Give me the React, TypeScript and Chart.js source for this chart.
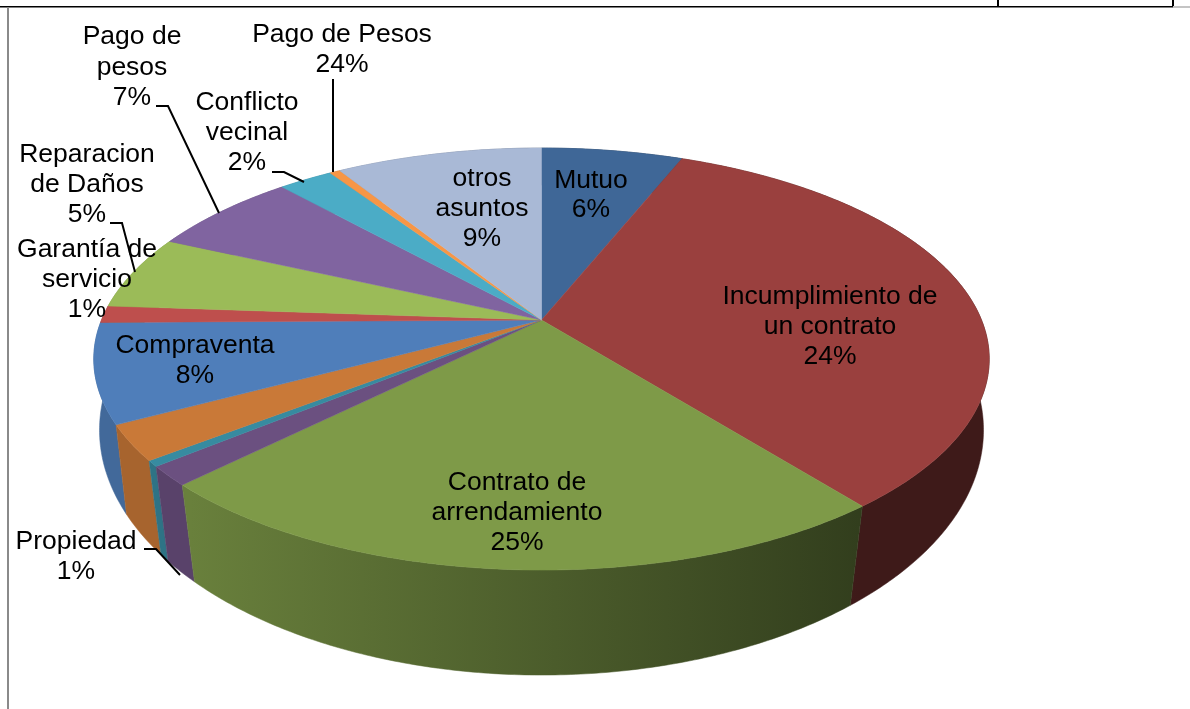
import React, { useEffect, useRef } from "react";
import { Chart, registerables } from "chart.js";

Chart.register(...registerables);

const categories = [
  "Mutuo", "Incumplimiento de un contrato", "Contrato de arrendamiento", "Sin rótulo A", "Propiedad",
  "Sin rótulo B", "Compraventa", "Garantía de servicio", "Reparacion de Daños", "Pago de pesos",
  "Conflicto vecinal", "Pago de Pesos", "otros asuntos",
];
const sliceValues = [6.1, 33.2, 23.3, 1.5, 0.45, 2.7, 7.6, 1.3, 5.7, 6.5, 2.35, 0.45, 8.9];
const sliceColors = [
  "#3F6797", "#9A403E", "#7E9A48", "#6B5080", "#378BA0", "#C97938", "#4F7EBA",
  "#BE4F4D", "#9BBB58", "#8064A0", "#4BACC6", "#F79646", "#A9B9D6",
];

// [text lines, centre x, first-line middle y, line step]
const labelBlocks: [string[], number, number, number][] = [
  [["Mutuo", "6%"], 591, 181, 29],
  [["Incumplimiento de", "un contrato", "24%"], 830, 297, 30],
  [["Contrato de", "arrendamiento", "25%"], 517, 483, 30],
  [["Compraventa", "8%"], 195, 346, 30],
  [["Propiedad", "1%"], 76, 542, 30],
  [["Garantía de", "servicio", "1%"], 87, 250, 30],
  [["Reparacion", "de Daños", "5%"], 87, 155, 30],
  [["Pago de", "pesos", "7%"], 132, 37, 30.5],
  [["Conflicto", "vecinal", "2%"], 247, 103, 30],
  [["Pago de Pesos", "24%"], 342, 35, 30],
  [["otros", "asuntos", "9%"], 482, 179, 30],
];

const leaderLines: number[][][] = [
  [[333, 79], [333, 172]],
  [[272, 172], [284, 172], [304, 182]],
  [[156, 106], [168, 106], [219, 213]],
  [[110, 223], [122, 223], [135, 272]],
  [[144, 549], [156, 549], [180, 575]],
];

const CX = 541.5;
const top3d = { y0: 320, a: 440, b: 203.8, k: -0.185 };
const bot3d = { y0: 393.3, a: 437, b: 239.5, k: -0.15 };

function project(p: { y0: number; a: number; b: number; k: number }, theta: number) {
  const u = Math.sin(theta);
  const v = -Math.cos(theta);
  const w = 1 + p.k * v;
  return { x: CX + (p.a * u) / w, y: p.y0 + (p.b * v) / w, v };
}

function scaled(hex: string, f: number) {
  const n = parseInt(hex.slice(1), 16);
  const r = (n >> 16) & 255;
  const g = (n >> 8) & 255;
  const b = n & 255;
  return `rgb(${Math.round(r * f)},${Math.round(g * f)},${Math.round(b * f)})`;
}

const pie3d = {
  id: "pie3d",
  beforeDraw(chart: any) {
    const c = chart.ctx;
    c.save();
    c.fillStyle = "#fff";
    c.fillRect(0, 0, 1190, 709);
    c.fillStyle = "#000";
    c.fillRect(0, 6, 1173, 1.5);
    c.fillRect(997, 0, 2, 6);
    c.fillRect(1172, 0, 2, 6);
    c.fillStyle = "#8a8a8a";
    c.fillRect(7, 7, 2, 702);
    c.fillRect(1173, 6.5, 17, 1);
    c.restore();
  },
  beforeDatasetsDraw(chart: any) {
    const c = chart.ctx;
    const arcs = chart.getDatasetMeta(0).data;
    const toTheta = (a: number) => a + Math.PI / 2;
    const order = arcs
      .map((arc: any, i: number) => {
        const s = toTheta(arc.startAngle);
        const e = toTheta(arc.endAngle);
        return { i, s, e, v: project(top3d, (s + e) / 2).v };
      })
      .sort((p: any, q: any) => p.v - q.v);
    c.save();
    for (const { i, s, e } of order) {
      const n = Math.max(2, Math.ceil((e - s) / 0.01));
      const g = c.createLinearGradient(190, 0, 860, 0);
      g.addColorStop(0, scaled(sliceColors[i], 0.83));
      g.addColorStop(1, scaled(sliceColors[i], 0.4));
      c.fillStyle = g;
      c.strokeStyle = g;
      c.lineWidth = 0.5;
      c.beginPath();
      for (let j = 0; j <= n; j++) {
        const p = project(top3d, s + ((e - s) * j) / n);
        j ? c.lineTo(p.x, p.y) : c.moveTo(p.x, p.y);
      }
      for (let j = n; j >= 0; j--) {
        const p = project(bot3d, s + ((e - s) * j) / n);
        c.lineTo(p.x, p.y);
      }
      c.closePath();
      c.fill();
      c.stroke();
    }
    arcs.forEach((arc: any, i: number) => {
      const s = toTheta(arc.startAngle);
      const e = toTheta(arc.endAngle);
      const n = Math.max(2, Math.ceil((e - s) / 0.01));
      c.fillStyle = sliceColors[i];
      c.strokeStyle = sliceColors[i];
      c.lineWidth = 0.5;
      c.beginPath();
      c.moveTo(CX, top3d.y0);
      for (let j = 0; j <= n; j++) {
        const p = project(top3d, s + ((e - s) * j) / n);
        c.lineTo(p.x, p.y);
      }
      c.closePath();
      c.fill();
      c.stroke();
    });
    c.restore();
    return false;
  },
  afterDraw(chart: any) {
    const c = chart.ctx;
    c.save();
    c.strokeStyle = "#000";
    c.lineWidth = 2;
    for (const line of leaderLines) {
      c.beginPath();
      line.forEach(([x, y], i) => (i ? c.lineTo(x, y) : c.moveTo(x, y)));
      c.stroke();
    }
    c.fillStyle = "#000";
    c.font = '26.5px "Liberation Sans", Arial, sans-serif';
    c.textAlign = "center";
    c.textBaseline = "middle";
    for (const [lines, x, y, step] of labelBlocks) {
      lines.forEach((t, i) => c.fillText(t, x, y + i * step));
    }
    c.restore();
  },
};

export default function App() {
  const ref = useRef<HTMLCanvasElement>(null);
  useEffect(() => {
    document.body.style.margin = "0";
    const chart = new Chart(ref.current!, {
      type: "pie",
      data: {
        labels: categories,
        datasets: [{ data: sliceValues, backgroundColor: sliceColors, borderWidth: 0 }],
      },
      options: {
        animation: false,
        responsive: false,
        plugins: { legend: { display: false }, tooltip: { enabled: false } },
      },
      plugins: [pie3d as any],
    });
    return () => chart.destroy();
  }, []);
  return <canvas ref={ref} width={1190} height={709} style={{ display: "block" }} />;
}
